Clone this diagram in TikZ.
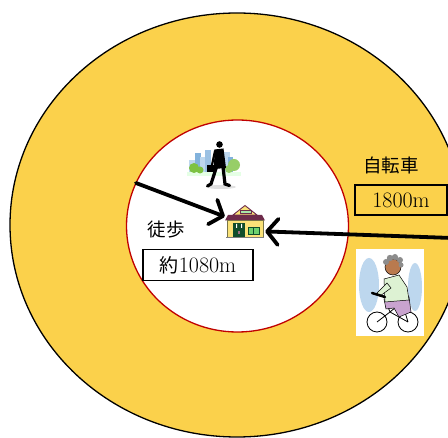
\documentclass[tikz,border=0pt]{standalone}
\usepackage{fontspec}
\newfontfamily\jafont{Noto Sans CJK JP}
\usetikzlibrary{arrows.meta}

\definecolor{ringyellow}{RGB}{251,209,75}
\definecolor{ringred}{RGB}{192,0,0}
\definecolor{roofpurple}{RGB}{110,43,75}
\definecolor{wallyellow}{RGB}{250,226,120}
\definecolor{doorgreen}{RGB}{15,77,42}
\definecolor{winegreen}{RGB}{110,210,110}
\definecolor{skyblue}{RGB}{189,215,238}
\definecolor{cityblue}{RGB}{130,178,220}
\definecolor{treegreen}{RGB}{125,194,66}
\definecolor{shirtgreen}{RGB}{221,242,211}
\definecolor{pantspurple}{RGB}{201,163,207}
\definecolor{skinbrown}{RGB}{185,122,78}

\begin{document}
\begin{tikzpicture}[x=1pt, y=-1pt,
  go/.style={line width=3.8pt, line cap=round,
    -{Straight Barb[length=11pt, width=26pt, round]}},
  distbox/.style={draw, line width=1.6pt, inner sep=0,
    font=\fontsize{22}{24}\selectfont},
  mode/.style={font=\jafont\fontsize{18.5}{21}\selectfont}]
  \useasboundingbox (0, 0) rectangle (448, 438);
  \clip (0, 0) rectangle (448, 438);

  % the two rings
  \draw[fill=ringyellow, line width=1.3pt] (237, 225) ellipse (227 and 212);
  \draw[fill=white, draw=ringred, line width=1.3pt] (237.5, 226) ellipse (111 and 106);

  % labels
  \node[mode] (walk) at (166, 230) {徒歩};
  \node[distbox, minimum width=110pt, minimum height=31pt] (walkdist) at (198, 265)
    {{\jafont\fontsize{19}{21}\selectfont 約}1080m};
  \node[mode] (bike) at (391, 165) {自転車};
  \node[distbox, minimum width=92pt, minimum height=30pt] (bikedist) at (401, 200) {1800m};

  % station
  \node[inner sep=0, minimum width=40pt, minimum height=32pt] (station) at (245, 222) {};
  \begin{scope}[shift={(station.center)}]
    \fill[roofpurple] (-20, -1.5) -- (20, -1.5) -- (17, -7) -- (-17, -7) -- cycle;
    \draw[fill=wallyellow, draw=roofpurple, line width=0.9pt] (-12, -7) -- (0, -16.5) -- (12, -7) -- cycle;
    \draw[fill=winegreen!60, draw=roofpurple, line width=0.6pt] (-5, -11.5) rectangle (6, -8.5);
    \draw[fill=wallyellow, draw=black!60!yellow, line width=0.5pt] (-18, -1.5) rectangle (18, 15);
    \fill[doorgreen] (-12, 1) rectangle (0, 15);
    \fill[white] (-9, 2) rectangle (-8, 6) (-4, 2) rectangle (-3, 6);
    \fill[roofpurple!70] (-7, 9) rectangle (-5, 12);
    \draw[fill=winegreen, draw=doorgreen, line width=0.8pt] (3, 5) rectangle (14, 12);
    \draw[doorgreen, line width=0.6pt] (8.5, 5) -- (8.5, 12);
    \draw[black!50, line width=1pt] (-19, 15.5) -- (19, 15.5);
  \end{scope}

  % walker in the city
  \node[inner sep=0, minimum width=54pt, minimum height=46pt] (walker) at (214, 165) {};
  \fill[black!12] (221, 187) ellipse (15 and 2);
  \fill[skyblue] (189, 160) rectangle (196, 173);
  \fill[cityblue] (195, 153) rectangle (201, 173);
  \fill[skyblue] (200, 157) rectangle (206, 173);
  \fill[cityblue!80] (205, 150) rectangle (211, 173);
  \fill[skyblue] (224, 152) rectangle (230, 173);
  \fill[cityblue] (228, 157) rectangle (233, 173);
  \fill[green!10] (187, 172) rectangle (241, 176);
  \fill[treegreen] (194, 168) circle (5) (200, 170) circle (3.5);
  \fill[treegreen!80] (234, 165) circle (6) (229, 169) circle (4);
  \fill[black] (219.5, 144.5) circle (3.3);
  \fill[black] (214.5, 149.5) -- (223.5, 148.5) -- (226, 168) -- (214, 169) -- cycle;
  \draw[black, line width=3.2pt, line cap=round] (216.5, 167) -- (211, 184) -- (207.5, 186);
  \draw[black, line width=3.2pt, line cap=round] (223, 167) -- (225, 184) -- (229.5, 185.5);
  \draw[black, line width=2.2pt, line cap=round] (215, 151) -- (212, 165);
  \fill[black] (206.5, 165) rectangle (214, 172.5);

  % cyclist
  \node[fill=white, inner sep=0, minimum width=68pt, minimum height=87pt] (rider) at (390, 293) {};
  \fill[skyblue] (369, 285) ellipse (10 and 27);
  \fill[skyblue] (415, 287) ellipse (7 and 24);
  \draw[line width=0.8pt] (377, 322) circle (10) (408, 322) circle (10);
  \draw[line width=0.8pt] (377, 322) -- (390, 312) -- (408, 322)
    (390, 312) -- (386, 302) (390, 312) -- (402, 302) -- (408, 322);
  \draw[fill=pantspurple, line width=0.5pt] (384, 299) -- (409, 297) -- (411, 312)
    -- (399, 317) -- (394, 308) -- (386, 309) -- cycle;
  \draw[fill=shirtgreen, line width=0.5pt] (384, 279) -- (399, 275) -- (407, 287)
    -- (409, 300) -- (385, 302) -- cycle;
  \draw[fill=shirtgreen, line width=0.5pt] (387, 283) -- (377, 293) -- (380, 296) -- (391, 288) -- cycle;
  \draw[line width=2.5pt, line cap=round] (372, 293) -- (385, 297);
  \draw[fill=skinbrown, line width=0.5pt] (393, 267) circle (8);
  \fill[black!45] (386, 262) circle (3) (390, 258) circle (3.2) (395, 257) circle (3)
    (400, 260) circle (3) (401, 265) circle (2.5);

  % routes to the station
  \coordinate (walkin) at (136, 183);
  \coordinate (bikein) at (452, 238);
  \draw[go] (walkin) -- (station.165);
  \draw[go] (bikein) -- (station.-25);
\end{tikzpicture}
\end{document}
